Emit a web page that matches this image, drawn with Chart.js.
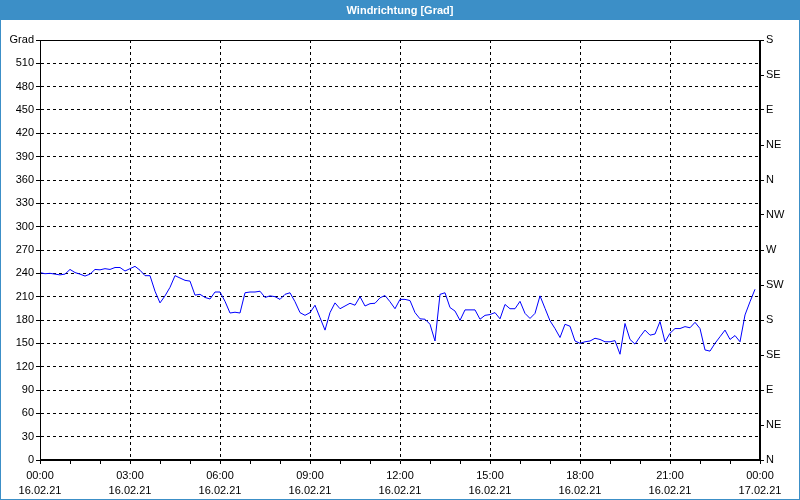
<!DOCTYPE html>
<html>
<head>
<meta charset="utf-8">
<script src="https://cdn.jsdelivr.net/npm/chart.js@4/dist/chart.umd.min.js"></script>
<style>
    html, body { margin: 0; padding: 0; background: #fff; }
    #chart { display: block; }
</style>
</head>
<body>
<canvas id="chart" width="800" height="500"></canvas>
<script>
// Chart title
const chartTitle = "Windrichtung [Grad]";

// Wind direction in degrees, one value every 10 minutes from 00:00 (16.02.21)
const windDirection = [
    241, 239.5, 240, 239, 238, 239, 245, 241, 239, 236.5,
    239, 245, 244.5, 246, 245, 247.5, 247.5, 243, 246, 249,
    244, 237, 237, 217, 202, 211, 222, 237, 234, 231,
    230, 212, 213, 209, 207, 216, 216, 204, 189, 190,
    189, 215, 216, 216, 217, 209, 211, 210, 206.5, 213,
    215, 203.5, 189.5, 186, 189.5, 199, 183, 167, 189.5, 202,
    194.5, 198, 201.5, 199, 210, 198, 201, 201.5, 208.5, 211.5,
    203.5, 194.5, 206.5, 206.5, 205, 189.5, 181.5, 181, 174.5, 153,
    213, 215, 196, 191.5, 179.5, 193, 193, 193, 181, 186,
    187, 189.5, 181.5, 200, 194.5, 194.5, 204, 188.5, 182, 188.5,
    211, 195, 179, 169, 157.5, 174.5, 172, 153, 150, 152,
    153, 156.5, 155, 152, 152, 153.5, 136, 175.5, 155, 149,
    158.5, 167, 160.5, 162, 178, 152, 163, 169, 169, 171.5,
    170, 177, 169, 141.5, 140, 150, 158.5, 167, 155, 160,
    152, 186.5, 203.5, 219.5
];

// Sample step in hours
const sampleStep = 1 / 6;

// Tick labels
const timeLabels = ["00:00", "03:00", "06:00", "09:00", "12:00", "15:00", "18:00", "21:00", "00:00"];
const dateLabels = ["16.02.21", "16.02.21", "16.02.21", "16.02.21", "16.02.21", "16.02.21", "16.02.21", "16.02.21", "17.02.21"];
const compassLabels = ["N", "NE", "E", "SE", "S", "SW", "W", "NW", "N", "NE", "E", "SE", "S"];

const frameBlue = "#3c8fc7";
const tickFont = { family: "'Liberation Sans', Arial, sans-serif", size: 11, lineHeight: 1.4 };

// Title bar and plot frame
const framePlugin = {
    id: "frame",
    beforeDraw(chart) {
        const c = chart.ctx;
        c.save();
        c.fillStyle = "#fff";
        c.fillRect(0, 0, chart.width, chart.height);
        c.fillStyle = frameBlue;
        c.fillRect(0, 0, chart.width, 20);
        c.fillStyle = "#fff";
        c.font = "bold 11px 'Liberation Sans', Arial, sans-serif";
        c.textAlign = "center";
        c.textBaseline = "middle";
        c.fillText(chartTitle, chart.width / 2, 10.5);
        c.restore();
    },
    afterDraw(chart) {
        const c = chart.ctx;
        const a = chart.chartArea;
        c.save();
        c.strokeStyle = "#000";
        c.lineWidth = 1;
        c.strokeRect(Math.round(a.left) + 0.5, Math.round(a.top) + 0.5,
            Math.round(a.right - a.left) - 1, Math.round(a.bottom - a.top) - 1);
        c.strokeStyle = frameBlue;
        c.strokeRect(0.5, 0.5, chart.width - 1, chart.height - 1);
        c.restore();
    }
};

const ctx = document.getElementById("chart");

new Chart(ctx, {
    type: "line",
    data: {
        datasets: [{
            label: chartTitle,
            data: windDirection.map((v, i) => ({ x: i * sampleStep, y: v })),
            borderColor: "#0000ff",
            borderWidth: 1,
            pointRadius: 0,
            tension: 0,
            yAxisID: "y"
        }]
    },
    options: {
        responsive: false,
        animation: false,
        layout: { padding: { top: 40, left: 0, right: 0, bottom: 0 } },
        plugins: {
            legend: { display: false },
            title: { display: false },
            tooltip: { enabled: false }
        },
        scales: {
            x: {
                type: "linear",
                min: 0,
                max: 24,
                afterFit: (scale) => { scale.height = 40; },
                afterBuildTicks: (scale) => {
                    scale.ticks = [];
                    for (let h = 0; h <= 24; h++) scale.ticks.push({ value: h });
                },
                ticks: {
                    autoSkip: false,
                    maxRotation: 0,
                    padding: 4,
                    color: "#000",
                    font: tickFont,
                    callback: (v) => v % 3 === 0 ? [timeLabels[v / 3], dateLabels[v / 3]] : ""
                },
                grid: {
                    color: (c) => c.tick && c.tick.value % 3 === 0 ? "#000" : "rgba(0,0,0,0)",
                    tickColor: "#000",
                    tickLength: 4,
                    tickBorderDash: [],
                    lineWidth: 1
                },
                border: { display: true, color: "#000", dash: [3, 3] }
            },
            y: {
                position: "left",
                min: 0,
                max: 540,
                afterFit: (scale) => { scale.width = 40; },
                ticks: {
                    stepSize: 30,
                    padding: 2,
                    color: "#000",
                    font: tickFont,
                    callback: (v) => v === 540 ? "Grad" : v
                },
                grid: {
                    color: "#000",
                    tickColor: "#000",
                    tickLength: 4,
                    tickBorderDash: [],
                    lineWidth: 1
                },
                border: { display: true, color: "#000", dash: [3, 3] }
            },
            y2: {
                position: "right",
                min: 0,
                max: 540,
                afterFit: (scale) => { scale.width = 40; },
                ticks: {
                    stepSize: 45,
                    padding: 2,
                    color: "#000",
                    font: tickFont,
                    callback: (v) => compassLabels[v / 45]
                },
                grid: {
                    drawOnChartArea: false,
                    tickColor: "#000",
                    tickLength: 4
                },
                border: { display: true, color: "#000" }
            }
        }
    },
    plugins: [framePlugin]
});
</script>
</body>
</html>
